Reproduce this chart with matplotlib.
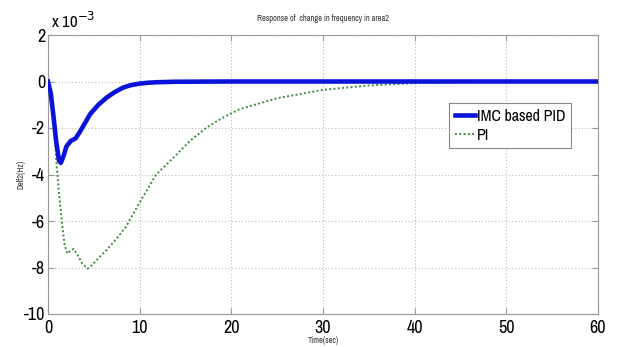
import matplotlib.pyplot as plt
from matplotlib import font_manager

# time (sec) and response, in units of 1e-3 Hz
t_imc = [0, 0.3, 0.6, 0.9, 1.2, 1.4, 1.7, 2.0, 2.5, 3.0, 3.5, 4.6, 5.5, 6.4, 7.3, 8.2, 9.0, 10.0, 11.0, 12.0, 14.0, 20, 30, 40, 50, 60]
delf_imc = [0, -0.5, -1.5, -2.6, -3.4, -3.5, -3.2, -2.8, -2.55, -2.45, -2.15, -1.4, -1.0, -0.69, -0.45, -0.26, -0.16, -0.09, -0.05, -0.03, -0.01, 0, 0, 0, 0, 0]

t_pi = [0, 0.3, 0.6, 0.9, 1.2, 1.5, 1.8, 2.1, 2.4, 2.8, 3.2, 3.7, 4.3, 4.8, 5.5, 6.5, 7.5, 8.5, 10.0, 11.8, 13.7, 15.5, 17.3, 19.1, 20.9, 25, 30, 35, 40, 45, 50, 60]
delf_pi = [0, -0.4, -1.6, -3.4, -4.8, -6.0, -7.0, -7.4, -7.3, -7.2, -7.45, -7.8, -8.05, -7.9, -7.6, -7.2, -6.75, -6.25, -5.2, -4.0, -3.27, -2.55, -1.98, -1.55, -1.19, -0.72, -0.36, -0.17, -0.07, -0.03, 0, 0]

xticks = [0, 10, 20, 30, 40, 50, 60]
yticks = [2, 0, -2, -4, -6, -8, -10]

# narrow font like the matlab export, if there is one
names = {f.name for f in font_manager.fontManager.ttflist}
narrow = "Liberation Sans"
for n in ["Liberation Sans Narrow", "Arial Narrow", "Archivo Narrow", "Roboto Condensed"]:
    if n in names:
        narrow = n
        break
plt.rcParams["font.family"] = [narrow, "DejaVu Sans"]
plt.rcParams["axes.unicode_minus"] = False

fig = plt.figure(figsize=(6.18, 3.47), dpi=100)
ax = fig.add_axes([48 / 618, 1 - 314 / 347, 550 / 618, 279 / 347])

ax.plot(t_imc, delf_imc, color="#0a14d8", linewidth=3.3, label="IMC based PID", zorder=3)
ax.plot(t_pi, delf_pi, color="#3f8a3f", linewidth=1.4, linestyle=(0, (1, 1.2)), label="PI", zorder=2)

ax.set_xlim(0, 60)
ax.set_ylim(-10, 2)
ax.set_xticks(xticks)
ax.set_yticks(yticks)
ax.tick_params(direction="in", top=True, right=True, labelsize=13, length=4, color="#999999", pad=2)
ax.tick_params(axis="x", pad=4)
ax.grid(True, color="#bbbbbb", linestyle=(0, (1, 2)), linewidth=0.8)
for s in ax.spines.values():
    s.set_color("#999999")

fig.text(51 / 618, 1 - 21 / 347, "x 10$^{-3}$", fontsize=12, va="center", ha="left")
ax.set_title("Response of  change in frequency in area2", fontsize=6, pad=10, color="#333333")
ax.set_ylabel("Delf2(Hz)", fontsize=6, color="#333333")
ax.yaxis.set_label_coords(-23 / 550, 0.5)
ax.set_xlabel("Time(sec)", fontsize=6, color="#333333")
ax.xaxis.set_label_coords(0.5, -22 / 279)

leg = ax.legend(loc="upper left", bbox_to_anchor=(0.729, 0.756), fontsize=11.5, fancybox=False,
                framealpha=1, edgecolor="#888888", handlelength=1.3, handletextpad=0.1,
                borderpad=0.35, labelspacing=0.25, borderaxespad=0)
leg.get_frame().set_linewidth(0.8)

fig.savefig("out.png", dpi=100)
